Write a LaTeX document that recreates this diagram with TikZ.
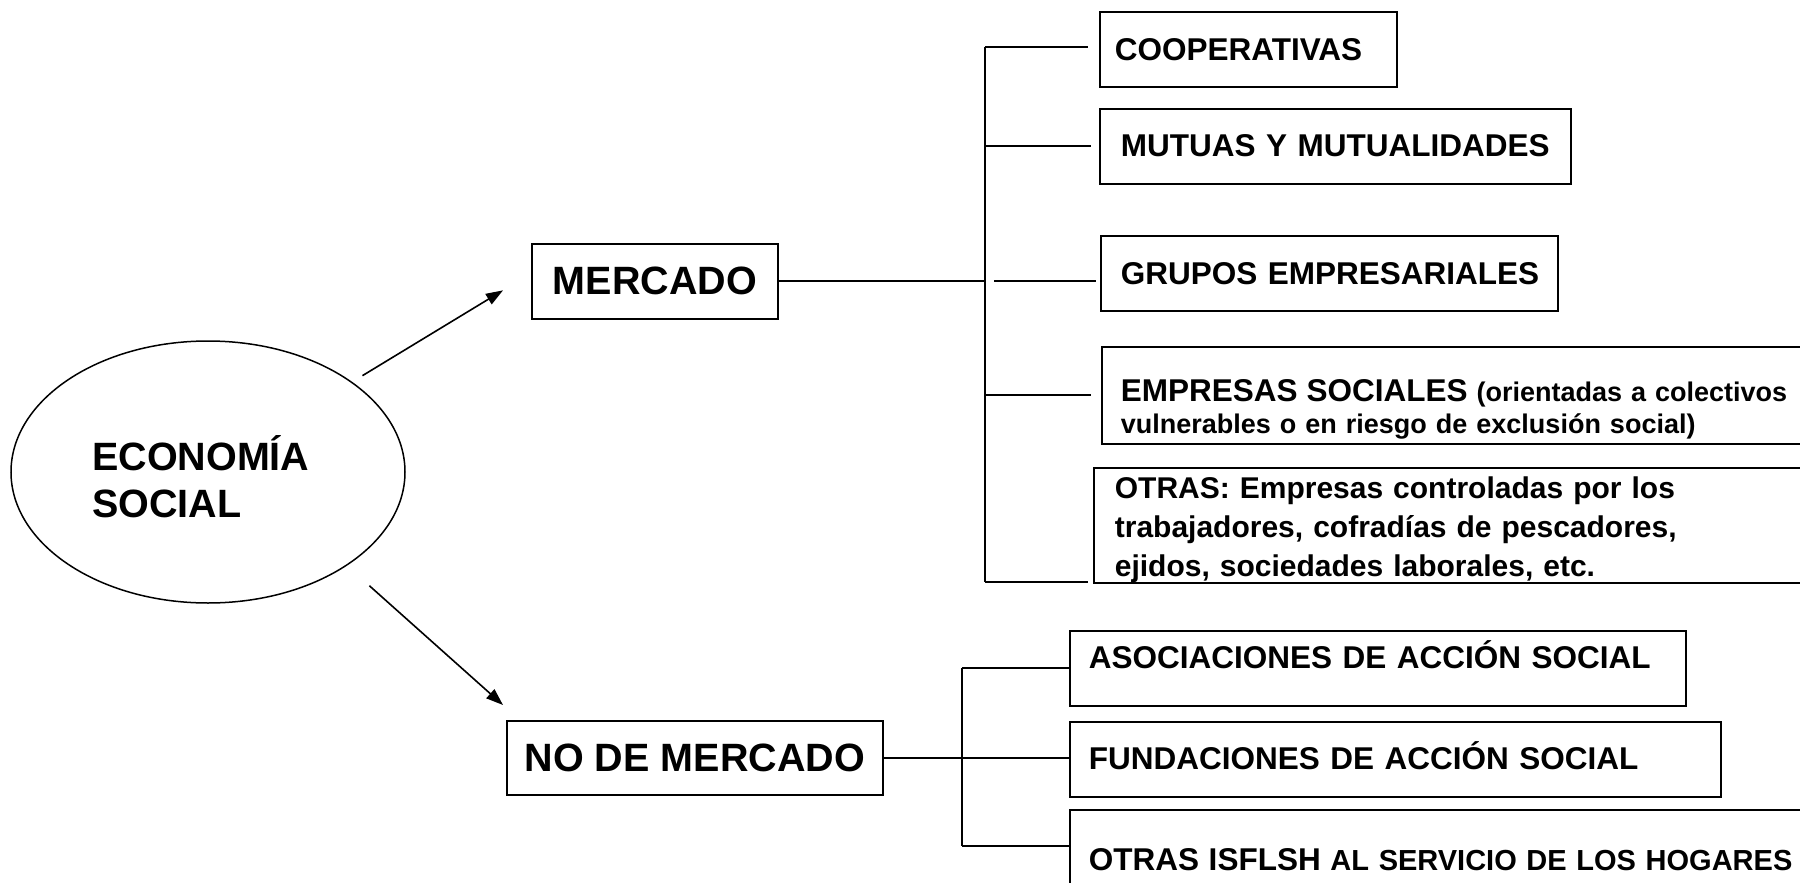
\documentclass[tikz,border=0pt]{standalone}
\usepackage{fontspec}
\setmainfont{Liberation Sans}
\usetikzlibrary{arrows.meta,shapes.geometric,calc}
\begin{document}
\begin{tikzpicture}[x=1pt,y=-1pt,
  box/.style={draw, line width=1.7pt, anchor=north west, inner ysep=0pt},
  big/.style={font=\bfseries\fontsize{39.5}{47}\selectfont},
  med/.style={font=\bfseries\fontsize{31.5}{39}\selectfont},
  lbox/.style={box, align=left},
  conn/.style={line width=1.8pt},
  arr/.style={line width=1.6pt, -{Triangle[length=17pt,width=12pt]}}]
\useasboundingbox (0,0) rectangle (1800,883);
\fill[white] (0,0) rectangle (1800,883);

% central ellipse
\node[ellipse, draw, line width=1.5pt, minimum width=394pt, minimum height=262pt, inner sep=0pt] (econ) at (208,472) {};
\node[anchor=west, align=left, big, inner sep=0pt] (econtxt) at (92,477) {ECONOMÍA\\SOCIAL};

% level 1
\node[box, big, minimum width=246pt, minimum height=75pt] (merc) at (531,243) {MERCADO};
\node[box, big, minimum width=376pt, minimum height=74pt] (nomerc) at (506,720) {NO DE MERCADO};

% mercado children
\node[lbox, med, text width=267pt, inner xsep=15pt, minimum height=75pt] (coop) at (1099,11) {\mbox{COOPERATIVAS}};
\node[lbox, med, text width=429pt, inner xsep=21pt, minimum height=75pt, text height=23pt, text depth=2pt] (mutuas) at (1099,108) {\mbox{MUTUAS Y MUTUALIDADES}};
\node[lbox, med, text width=417pt, inner xsep=20pt, minimum height=75pt] (grupos) at (1100,235) {\mbox{GRUPOS EMPRESARIALES}};
\node[lbox, text width=722pt, inner xsep=19pt, minimum height=97pt, text height=23pt, text depth=10pt, font=\bfseries\fontsize{27}{32}\selectfont] (empresas) at (1101,346) {{\fontsize{31.5}{32}\selectfont EMPRESAS SOCIALES} (orientadas a colectivos\\vulnerables o en riesgo de exclusión social)};
\node[lbox, text width=718pt, inner xsep=21pt, minimum height=115pt, text height=22pt, text depth=76pt, font=\bfseries\fontsize{30}{39}\selectfont] (otras) at (1093,467) {OTRAS: Empresas controladas por los\\trabajadores, cofradías de pescadores,\\ejidos, sociedades laborales, etc.};

% no de mercado children
\node[lbox, med, text width=578pt, inner xsep=19pt, minimum height=75pt, text height=30pt, text depth=29pt] (asoc) at (1069,630) {\mbox{ASOCIACIONES DE ACCIÓN SOCIAL}};
\node[lbox, med, text width=613pt, inner xsep=19pt, minimum height=75pt, text height=30pt, text depth=10pt] (fund) at (1069,721) {\mbox{FUNDACIONES DE ACCIÓN SOCIAL}};
\node[lbox, text width=762pt, inner xsep=19pt, minimum height=100pt, font=\bfseries\fontsize{29}{35}\selectfont] (isflsh) at (1069,809) {\mbox{{\fontsize{31.5}{35}\selectfont OTRAS ISFLSH} AL SERVICIO DE LOS HOGARES}};

% arrows
\draw[arr, shorten <=12pt] (econ.32.5) -- ([xshift=-28pt,yshift=-9pt]merc.west);
\draw[arr, shorten <=30pt] (econ.-34) -- ([xshift=-3pt,yshift=15pt]nomerc.north west);

% upper tree
\coordinate (t1top) at (985,47);
\coordinate (t1bot) at (985,582);
\draw[conn] (t1top) -- (t1bot);
\draw[conn] (merc.east) -- (merc.east -| t1top);
\draw[conn] (t1top) -- ([xshift=-11pt]coop.west |- t1top);
\draw[conn] (mutuas.west -| t1top) -- ([xshift=-8pt]mutuas.west);
\draw[conn] ([xshift=9pt]t1top |- merc.east) -- ([xshift=-4pt]grupos.west |- merc.east);
\draw[conn] (empresas.west -| t1top) -- ([xshift=-10pt]empresas.west);
\draw[conn] (t1bot) -- ([xshift=-5pt]otras.south west |- t1bot);

% lower tree
\coordinate (t2top) at (962,668);
\coordinate (t2bot) at (962,846);
\draw[conn] (t2top) -- (t2bot);
\draw[conn] (nomerc.east) -- (nomerc.east -| fund.west);
\draw[conn] (t2top) -- (t2top -| asoc.west);
\draw[conn] (t2bot) -- (t2bot -| isflsh.west);
\end{tikzpicture}
\end{document}
